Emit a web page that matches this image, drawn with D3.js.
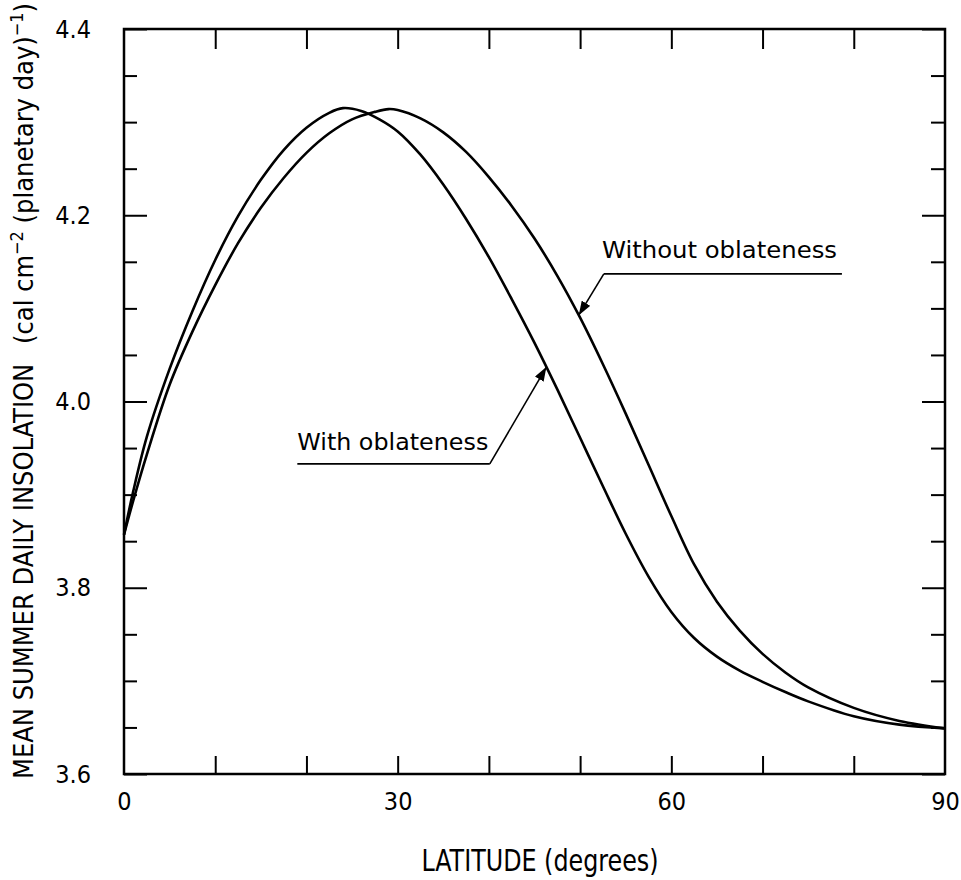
<!DOCTYPE html>
<html>
<head>
<meta charset="utf-8">
<script src="https://cdn.jsdelivr.net/npm/d3@7"></script>
<style>
  body { margin: 0; background: #fff; }
  text { font-family: "DejaVu Sans Condensed", "DejaVu Sans", sans-serif; fill: #000; }
</style>
</head>
<body>
<div id="chart"></div>
<script>
var chart_width  = 961;
var chart_height = 880;
var margin = { left: 124, right: 15, top: 29, bottom: 106 };

// latitude (degrees), mean summer daily insolation
var lat_with = [0, 1, 2.5, 5, 7.5, 10, 12.5, 15, 17.5, 20, 22.5, 24, 26, 28, 30, 32.5, 35, 37.5, 40,
  42.5, 45, 47.5, 50, 52.5, 55, 57.5, 60, 62.5, 65, 67.5, 70, 72.5, 75, 80, 85, 90];
var val_with = [3.857, 3.903, 3.962, 4.035, 4.097, 4.152, 4.199, 4.238, 4.270, 4.294, 4.310, 4.315, 4.312, 4.303, 4.290, 4.265, 4.233, 4.196, 4.155,
  4.110, 4.063, 4.013, 3.961, 3.909, 3.858, 3.812, 3.774, 3.746, 3.726, 3.711, 3.699, 3.688, 3.678, 3.662, 3.653, 3.649];

var lat_without = [0, 1, 2.5, 5, 7.5, 10, 12.5, 15, 17.5, 20, 22.5, 25, 27.5, 29, 30, 32.5, 35, 37.5, 40,
  42.5, 45, 47.5, 50, 52.5, 55, 57.5, 60, 62.5, 65, 67.5, 70, 72.5, 75, 80, 85, 90];
var val_without = [3.857, 3.893, 3.943, 4.018, 4.075, 4.125, 4.170, 4.208, 4.240, 4.267, 4.288, 4.303, 4.311, 4.314, 4.313, 4.304, 4.289, 4.268, 4.241,
  4.210, 4.175, 4.135, 4.090, 4.040, 3.987, 3.932, 3.877, 3.825, 3.785, 3.754, 3.729, 3.709, 3.693, 3.671, 3.657, 3.649];

var x_labels = [0, 30, 60, 90];
var x_minor  = [10, 20, 30, 40, 50, 60, 70, 80];
var y_labels = [3.6, 3.8, 4.0, 4.2, 4.4];
var y_minor  = [3.65, 3.7, 3.75, 3.85, 3.9, 3.95, 4.05, 4.1, 4.15, 4.25, 4.3, 4.35];

var series = [
  { name: 'With oblateness', lat: lat_with, val: val_with },
  { name: 'Without oblateness', lat: lat_without, val: val_without }
];

var svg = d3.select('#chart')
  .append('svg')
  .attr('width', chart_width)
  .attr('height', chart_height);

var x_scale = d3.scaleLinear()
  .domain([0, 90])
  .range([margin.left, chart_width - margin.right - 1]);

var y_scale = d3.scaleLinear()
  .domain([3.6, 4.4])
  .range([chart_height - margin.bottom, margin.top]);

var x0 = x_scale(0), x1 = x_scale(90), y0 = y_scale(3.6), y1 = y_scale(4.4);

function style_axis(g) {
  g.select('.domain').remove();
  g.selectAll('.tick line').attr('stroke', '#000').attr('stroke-width', 2);
  g.selectAll('.tick text').style('font-size', '25px');
}

// bottom / top ticks
svg.append('g')
  .attr('transform', 'translate(0,' + y0 + ')')
  .call(d3.axisBottom(x_scale).tickValues(x_minor).tickSize(-18).tickFormat(''))
  .call(style_axis);
svg.append('g')
  .attr('transform', 'translate(0,' + y0 + ')')
  .call(d3.axisBottom(x_scale).tickValues(x_labels).tickSize(0).tickPadding(18).tickFormat(d3.format('d')))
  .call(style_axis);
svg.append('g')
  .attr('transform', 'translate(0,' + y1 + ')')
  .call(d3.axisTop(x_scale).tickValues(x_minor).tickSize(-20).tickFormat(''))
  .call(style_axis);

// left / right ticks
svg.append('g')
  .attr('transform', 'translate(' + x0 + ',0)')
  .call(d3.axisLeft(y_scale).tickValues(y_minor).tickSize(-13).tickFormat(''))
  .call(style_axis);
svg.append('g')
  .attr('transform', 'translate(' + x0 + ',0)')
  .call(d3.axisLeft(y_scale).tickValues(y_labels).tickSize(-23).tickPadding(33).tickFormat(d3.format('.1f')))
  .call(style_axis);
svg.append('g')
  .attr('transform', 'translate(' + x1 + ',0)')
  .call(d3.axisRight(y_scale).tickValues(y_minor).tickSize(-14).tickFormat(''))
  .call(style_axis);
svg.append('g')
  .attr('transform', 'translate(' + x1 + ',0)')
  .call(d3.axisRight(y_scale).tickValues(y_labels).tickSize(-23).tickFormat(''))
  .call(style_axis);

// frame
svg.append('rect')
  .attr('x', x0).attr('y', y1)
  .attr('width', x1 - x0).attr('height', y0 - y1)
  .attr('fill', 'none')
  .attr('stroke', '#000')
  .attr('stroke-width', 2.5);

// curves
var line = d3.line()
  .x(function(d) { return x_scale(d[0]); })
  .y(function(d) { return y_scale(d[1]); })
  .curve(d3.curveCatmullRom.alpha(0.5));

svg.selectAll('path.curve')
  .data(series)
  .enter()
  .append('path')
  .attr('class', 'curve')
  .attr('d', function(s) { return line(d3.zip(s.lat, s.val)); })
  .attr('fill', 'none')
  .attr('stroke', '#000')
  .attr('stroke-width', 2.6);

// arrow marker
svg.append('defs').append('marker')
  .attr('id', 'arrow')
  .attr('viewBox', '0 0 14 10')
  .attr('refX', 14).attr('refY', 5)
  .attr('markerWidth', 14).attr('markerHeight', 10)
  .attr('markerUnits', 'userSpaceOnUse')
  .attr('orient', 'auto')
  .append('path')
  .attr('d', 'M0,0L14,5L0,10Z')
  .attr('fill', '#000');

function value_at(s, lat) {
  var i = d3.bisectLeft(s.lat, lat);
  var t = (lat - s.lat[i - 1]) / (s.lat[i] - s.lat[i - 1]);
  return s.val[i - 1] + t * (s.val[i] - s.val[i - 1]);
}

// annotations: text start, underline, arrow target latitude
var notes = [
  { s: series[0], tx: 19.0, ty: 3.948, ly: 3.933, lx0: 19.0, lx1: 40.1, tip: 46.3, elbow: 'right', w: 191 },
  { s: series[1], tx: 52.4, ty: 4.154, ly: 4.137, lx0: 52.6, lx1: 78.7, tip: 49.85, elbow: 'left', w: 235 }
];

notes.forEach(function(n) {
  svg.append('text')
    .attr('x', x_scale(n.tx))
    .attr('y', y_scale(n.ty))
    .attr('textLength', n.w)
    .attr('lengthAdjust', 'spacingAndGlyphs')
    .style('font-size', '23px')
    .text(n.s.name);
  var ex = n.elbow === 'right' ? n.lx1 : n.lx0;
  svg.append('line')
    .attr('x1', x_scale(n.lx0)).attr('x2', x_scale(n.lx1))
    .attr('y1', y_scale(n.ly)).attr('y2', y_scale(n.ly))
    .attr('stroke', '#000').attr('stroke-width', 1.6);
  svg.append('line')
    .attr('x1', x_scale(ex)).attr('y1', y_scale(n.ly))
    .attr('x2', x_scale(n.tip)).attr('y2', y_scale(value_at(n.s, n.tip)))
    .attr('stroke', '#000').attr('stroke-width', 1.6)
    .attr('marker-end', 'url(#arrow)');
});

// axis titles
svg.append('text')
  .attr('x', 540)
  .attr('y', 871)
  .attr('text-anchor', 'middle')
  .attr('textLength', 237)
  .attr('lengthAdjust', 'spacingAndGlyphs')
  .style('font-size', '30px')
  .text('LATITUDE (degrees)');

var ytitle = svg.append('text')
  .attr('transform', 'translate(33,391) rotate(-90)')
  .attr('text-anchor', 'middle')
  .attr('textLength', 776)
  .attr('lengthAdjust', 'spacingAndGlyphs')
  .style('font-size', '27px');
ytitle.append('tspan').text('MEAN SUMMER DAILY INSOLATION\u2002 (cal cm');
ytitle.append('tspan').attr('dy', -10).style('font-size', '18px').text('\u22122');
ytitle.append('tspan').attr('dy', 10).text(' (planetary day)');
ytitle.append('tspan').attr('dy', -10).style('font-size', '18px').text('\u22121');
ytitle.append('tspan').attr('dy', 10).text(')');
</script>
</body>
</html>
